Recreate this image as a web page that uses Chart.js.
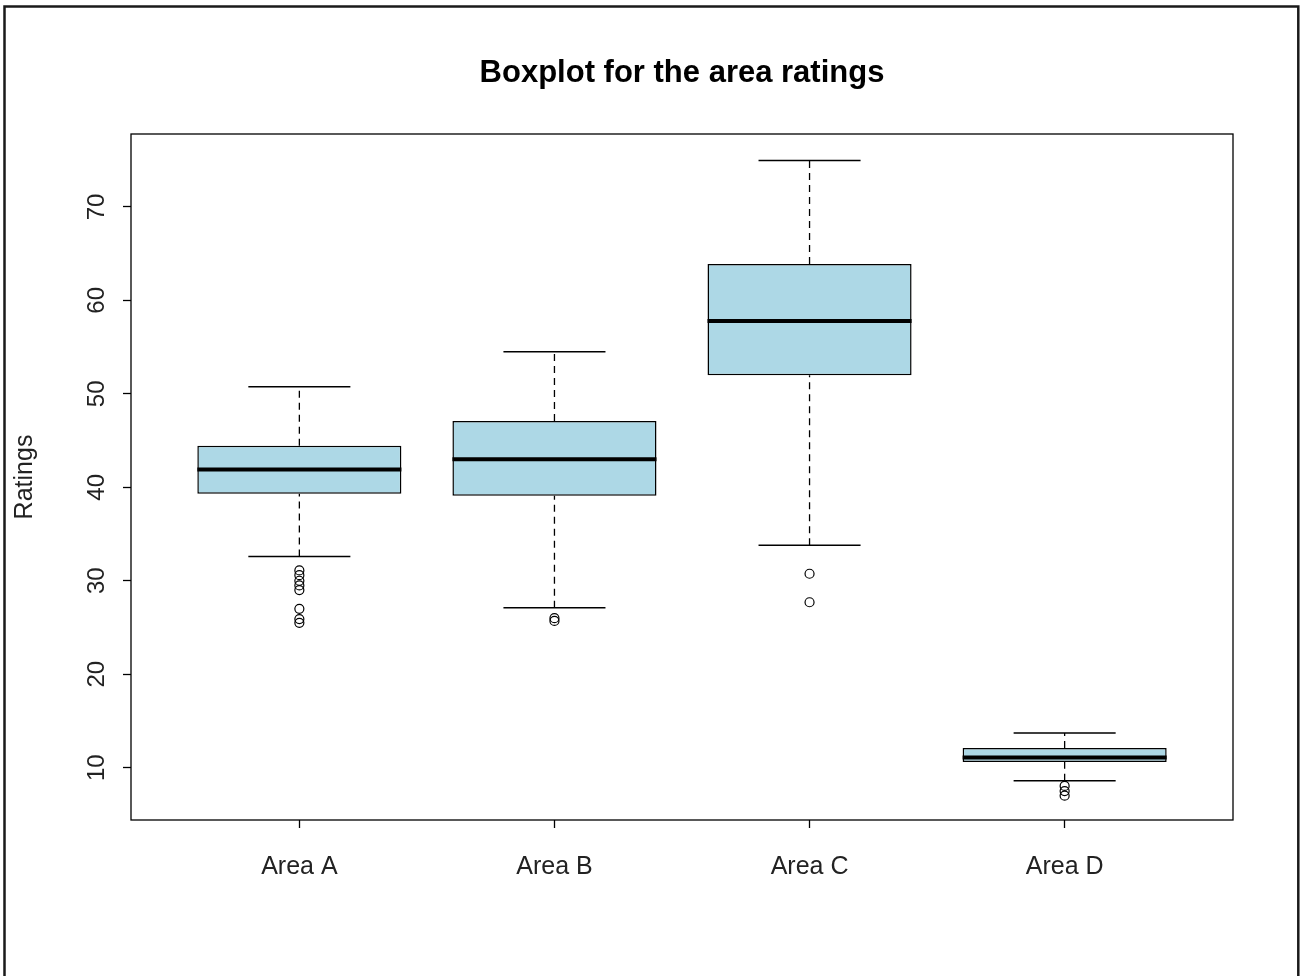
<!DOCTYPE html>
<html>
<head>
<meta charset="utf-8">
<title>Boxplot for the area ratings</title>
<script src="https://cdn.jsdelivr.net/npm/chart.js@4"></script>
<style>
  body { margin: 0; background: #fff; }
  canvas { display: block; }
</style>
</head>
<body>
<canvas id="boxChart" width="1303" height="976"></canvas>
<script>
const categories = ['Area A', 'Area B', 'Area C', 'Area D'];
const whiskerLow = [32.6, 27.1, 33.8, 8.6];
const q1 = [39.3, 39.1, 52.0, 10.6];
const median = [41.9, 43.0, 57.8, 11.1];
const q3 = [44.45, 47.1, 63.9, 12.1];
const whiskerHigh = [50.75, 54.5, 74.96, 13.7];
const outliersA = [31.1, 30.6, 30.0, 29.5, 29.0, 27.0, 25.9, 25.5];
const outliersB = [26.0, 25.7];
const outliersC = [30.75, 27.7];
const outliersD = [8.05, 7.5, 7.0];
const yTicks = [10, 20, 30, 40, 50, 60, 70];

const font = "'Liberation Sans', Arial, sans-serif";

// line pieces joined by null points so each one is drawn on its own
function segments(pieces) {
  const pts = [];
  pieces.forEach(p => {
    pts.push({ x: p[0], y: p[1] }, { x: p[2], y: p[3] }, { x: p[2], y: null });
  });
  return pts;
}

const boxes = categories.map((c, i) => ({ x: i + 1, y: [q1[i], q3[i]] }));
const medianLines = segments(categories.map((c, i) => [i + 0.6, median[i], i + 1.4, median[i]]));
const whiskerLines = segments(categories.flatMap((c, i) => [
  [i + 1, q3[i], i + 1, whiskerHigh[i]],
  [i + 1, whiskerLow[i], i + 1, q1[i]]
]));
const capLines = segments(categories.flatMap((c, i) => [
  [i + 0.8, whiskerHigh[i], i + 1.2, whiskerHigh[i]],
  [i + 0.8, whiskerLow[i], i + 1.2, whiskerLow[i]]
]));
const outlierPoints = [outliersA, outliersB, outliersC, outliersD]
  .flatMap((list, i) => list.map(v => ({ x: i + 1, y: v })));

const framePlugin = {
  id: 'frame',
  afterDraw(chart) {
    const { ctx, chartArea } = chart;
    ctx.save();
    ctx.strokeStyle = '#000';
    ctx.lineWidth = 1.3;
    ctx.strokeRect(chartArea.left, chartArea.top, chartArea.right - chartArea.left, chartArea.bottom - chartArea.top);
    ctx.strokeStyle = '#1a1a1a';
    ctx.lineWidth = 2.5;
    ctx.strokeRect(4.5, 6.5, 1293.8, 1100);
    ctx.restore();
  }
};

const ctx = document.getElementById('boxChart').getContext('2d');
new Chart(ctx, {
  type: 'bar',
  data: {
    datasets: [
      {
        type: 'bar',
        data: boxes,
        backgroundColor: '#ADD8E6',
        borderColor: '#000',
        borderWidth: 1.5,
        borderSkipped: false,
        categoryPercentage: 0.8,
        barPercentage: 1,
        order: 5
      },
      {
        type: 'line',
        data: whiskerLines,
        borderColor: '#000',
        borderWidth: 1.3,
        borderDash: [7, 5],
        pointRadius: 0,
        order: 6
      },
      {
        type: 'line',
        data: capLines,
        borderColor: '#000',
        borderWidth: 1.5,
        pointRadius: 0,
        order: 1
      },
      {
        type: 'line',
        data: medianLines,
        borderColor: '#000',
        borderWidth: 4,
        pointRadius: 0,
        order: 1
      },
      {
        type: 'scatter',
        data: outlierPoints,
        pointStyle: 'circle',
        pointRadius: 4.5,
        borderWidth: 1.2,
        borderColor: '#000',
        backgroundColor: 'transparent',
        order: 1
      }
    ]
  },
  options: {
    responsive: false,
    animation: false,
    events: [],
    layout: { padding: { left: 4, right: 70, top: 0, bottom: 0 } },
    plugins: {
      legend: { display: false },
      tooltip: { enabled: false },
      title: {
        display: true,
        fullSize: false,
        text: 'Boxplot for the area ratings',
        color: '#000',
        font: { family: font, size: 31, weight: 'bold' },
        padding: { top: 55, bottom: 41.8 }
      }
    },
    scales: {
      x: {
        type: 'linear',
        min: 0.34,
        max: 4.66,
        offset: false,
        afterBuildTicks: s => { s.ticks = categories.map((c, i) => ({ value: i + 1 })); },
        afterFit: s => { s.height = 156; },
        border: { display: false },
        grid: { offset: false, drawOnChartArea: false, drawTicks: true, tickLength: 8, tickWidth: 1.3, tickColor: '#000', color: '#000' },
        ticks: {
          callback: v => categories[v - 1],
          autoSkip: false,
          maxRotation: 0,
          padding: 24,
          color: '#222',
          font: { family: font, size: 25 }
        }
      },
      y: {
        type: 'linear',
        min: 4.4,
        max: 77.8,
        afterBuildTicks: s => { s.ticks = yTicks.map(v => ({ value: v })); },
        afterFit: s => { s.width = 127; },
        border: { display: false },
        grid: { drawOnChartArea: false, drawTicks: true, tickLength: 8, tickWidth: 1.3, tickColor: '#000', color: '#000' },
        title: {
          display: true,
          text: 'Ratings',
          color: '#222',
          font: { family: font, size: 25 },
          padding: { top: 6, bottom: 0 }
        },
        ticks: {
          minRotation: 90,
          maxRotation: 90,
          crossAlign: 'center',
          padding: 12.7,
          color: '#222',
          font: { family: font, size: 24 }
        }
      }
    }
  },
  plugins: [framePlugin]
});
</script>
</body>
</html>
